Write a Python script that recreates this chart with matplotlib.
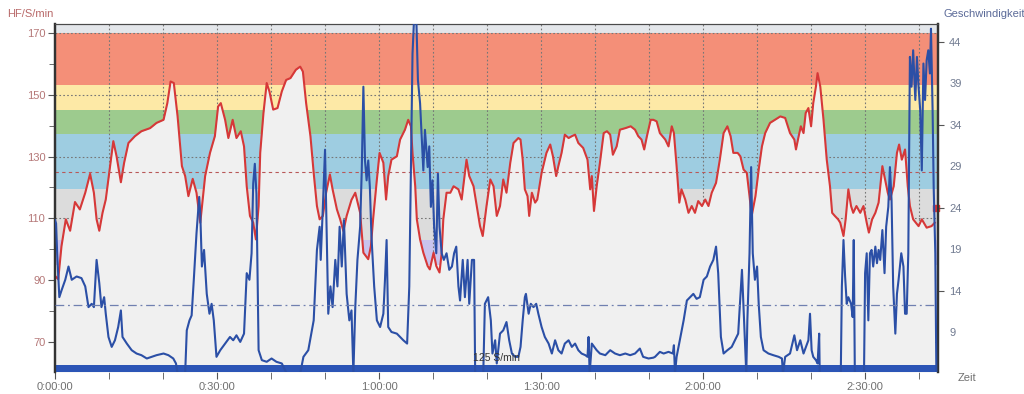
import matplotlib
matplotlib.use('Agg')
import matplotlib.pyplot as plt

# heart rate (min, S/min)
hr_t = [0, 0.6, 1.2, 2.0, 2.8, 3.7, 4.6, 5.6, 6.5, 7.2, 7.7, 8.2, 8.8, 9.4, 10.2, 10.8, 11.4, 12.2,
        12.8, 13.6, 14.8, 16.0, 17.6, 18.8, 20.1, 20.8, 21.4, 22.0, 22.7, 23.5, 24.1, 24.7, 25.5, 26.2,
        26.9, 27.8, 28.7, 29.6, 30.2, 30.7, 31.5, 32.1, 32.9, 33.6, 34.4, 35.0, 35.5, 36.1, 36.7, 37.2,
        37.7, 38.0, 38.6, 39.2, 39.7, 40.4, 41.2, 42.0, 42.8, 43.6, 44.6, 45.4, 45.9, 46.5, 47.3, 47.9,
        48.5, 49.0, 49.6, 50.2, 50.9, 51.4, 52.2, 52.8, 53.4, 54.0, 54.9, 55.6, 56.5, 57.1, 58.0, 58.5,
        58.9, 59.6, 60.1, 60.8, 61.3, 61.7, 62.3, 63.3, 63.9, 64.8, 65.4, 65.9, 66.2, 66.7, 67.0, 67.6,
        68.2, 69.0, 69.4, 70.1, 70.6, 71.2, 71.6, 71.9, 72.5, 73.2, 73.8, 74.7, 75.3, 76.2, 76.7, 77.5,
        78.1, 78.7, 79.2, 79.9, 80.6, 81.2, 81.8, 82.4, 83.0, 83.6, 84.3, 84.9, 85.8, 86.2, 86.6, 87.0,
        87.5, 87.8, 88.3, 88.9, 89.3, 90.1, 91.0, 91.7, 92.2, 92.8, 93.2, 93.8, 94.4, 95.1, 95.7, 96.3,
        96.9, 97.8, 98.6, 99.1, 99.4, 99.8, 100.3, 100.9, 101.6, 102.2, 102.8, 103.3, 104.0, 104.6,
        105.6, 106.6, 107.4, 108.0, 108.6, 109.1, 109.6, 110.3, 110.8, 111.4, 112.0, 113.0, 113.6,
        114.2, 114.6, 115.1, 115.6, 116.0, 116.7, 117.3, 117.9, 118.5, 119.1, 119.8, 120.4, 121.0,
        121.6, 122.4, 123.1, 123.8, 124.5, 125.1, 125.6, 126.4, 126.9, 127.5, 128.1, 128.6, 129.0,
        129.7, 130.3, 130.9, 131.5, 132.4, 133.3, 134.3, 135.2, 136.1, 136.9, 137.2, 137.7, 138.1,
        138.6, 139.0, 139.5, 140.0, 140.4, 140.9, 141.2, 141.7, 142.3, 142.9, 143.5, 143.9, 144.4,
        145.0, 145.4, 146.0, 146.4, 146.9, 147.4, 147.8, 148.4, 149.1, 149.7, 150.3, 150.7, 151.3,
        151.9, 152.5, 153.2, 153.7, 154.2, 154.6, 155.3, 155.9, 156.3, 156.8, 157.4, 157.9, 158.3,
        158.9, 159.9, 160.5, 161.4, 162.3, 162.9]
hr = [91.4, 90.3, 101, 109.7, 106, 115.3, 112.9, 118.3, 124.4, 118.3, 109.7, 106, 111.8, 116.1, 126.9,
      135, 130.1, 121.7, 128, 134.4, 136.6, 138.2, 139.2, 140.9, 141.9, 147.3, 154.3, 153.8, 143, 126.9,
      123.7, 117.2, 122.8, 118.3, 108.6, 123.7, 131.2, 136.6, 146.2, 147.3, 141.9, 136, 141.9, 136,
      138.2, 133.3, 120.4, 110.8, 108.6, 103.2, 114, 131.2, 144.1, 153.8, 151.1, 145.2, 145.7, 151.1,
      154.8, 155.4, 158.1, 159.1, 157.5, 147.3, 136.6, 124.7, 114, 109.7, 110.8, 118.3, 124.2, 119.4,
      112.9, 109.7, 105.9, 110.8, 116, 118.3, 111.8, 98.9, 96.8, 101.1, 109.7, 122.6, 131.2, 128,
      116.1, 123.7, 129, 130.1, 135.5, 138.7, 141.9, 139.8, 131.2, 120.4, 109.7, 103.2, 98.9, 94.6,
      93.5, 98.9, 94.6, 92.5, 98.9, 109.7, 118.3, 118.3, 120.4, 119.4, 116.1, 129, 123.7, 120.4, 114,
      107.5, 104.3, 114, 122.6, 120.4, 110.8, 114, 122.6, 118.3, 128, 134.4, 136, 135.5, 129, 119.4,
      117.2, 110.8, 118.3, 115.1, 116.1, 124.7, 131.2, 133.9, 130.1, 123.7, 126.9, 131.2, 137.1, 136,
      136.6, 137.1, 134.4, 132.8, 129, 119.4, 123.7, 112.4, 120.4, 128, 137.6, 138.2, 137.1, 130.6,
      133.3, 138.7, 139.2, 139.8, 138.7, 136.6, 135.5, 132.3, 136.6, 141.9, 141.9, 141.4, 137.6, 135.5,
      133.3, 139.8, 137.6, 126.9, 115.1, 119.4, 116.1, 111.8, 114, 111.8, 115.6, 114, 116.1, 114,
      118.3, 121.5, 129, 137.6, 139.8, 136.6, 131.2, 131.2, 130.1, 125.8, 124.7, 117.2, 110.8, 117.2,
      125.8, 133.3, 137.6, 140.9, 141.9, 143, 142.5, 137.6, 135.5, 132.3, 136.6, 139.8, 137.6, 144.1,
      145.7, 139.8, 147.3, 152.7, 157, 152.7, 141.9, 129, 120.4, 111.8, 110.8, 109.7, 108.6, 104.3,
      109.7, 119.4, 114, 111.8, 114, 111.8, 114, 108.6, 105.4, 109.7, 111.8, 115.1, 126.9, 122.6,
      118.3, 116.1, 120.4, 131.2, 133.9, 129, 132.3, 120.4, 114, 109.7, 107.5, 109.7, 107, 107.5, 108.6]

# speed (min, km/h)
spd_t = [0, 0.2, 0.4, 0.8, 1.2, 1.9, 2.5, 3.1, 4.0, 4.9, 5.6, 6.2, 6.8, 7.2, 7.7, 8.2, 8.6, 9.1, 9.4,
         9.9, 10.5, 11.1, 11.7, 12.2, 12.5, 13.3, 14.2, 15.1, 16.0, 17.0, 17.9, 18.8, 20.1, 21.0, 21.9,
         22.4, 22.7, 24.1, 24.4, 24.9, 25.3, 25.7, 26.2, 26.7, 26.9, 27.2, 27.6, 28.1, 28.6, 29.0, 29.4,
         29.9, 30.6, 31.5, 32.4, 33.0, 33.6, 34.3, 35.0, 35.5, 36.0, 36.4, 36.7, 37.0, 37.3, 37.7, 38.3,
         39.2, 40.1, 41.0, 42.0, 42.9, 45.4, 46.0, 46.9, 47.9, 48.5, 49.0, 49.2, 49.6, 50.0, 50.3, 50.6,
         51.0, 51.4, 51.9, 52.3, 52.7, 53.1, 53.5, 54.0, 54.5, 54.9, 55.25, 55.6, 56.0, 56.5, 56.8, 57.1,
         57.4, 57.7, 58.0, 58.3, 58.6, 59.1, 59.6, 60.2, 60.8, 61.1, 61.4, 61.7, 62.3, 63.3, 63.9, 64.5,
         65.2, 65.6, 65.9, 66.2, 66.5, 66.9, 67.2, 67.6, 67.9, 68.2, 68.5, 69.0, 69.3, 69.6, 69.9, 70.2,
         70.6, 70.9, 71.2, 71.6, 72.0, 72.5, 73.0, 73.5, 73.9, 74.3, 74.7, 75.0, 75.5, 75.9, 76.4, 76.7,
         77.2, 77.6, 77.8, 79.3, 79.6, 80.2, 80.7, 81.0, 81.5, 81.8, 82.4, 83.0, 83.6, 84.1, 84.6, 85.2,
         85.8, 86.2, 86.6, 87.0, 87.2, 87.7, 88.1, 88.6, 89.1, 89.5, 90.1, 90.7, 91.4, 92.0, 92.6, 93.2,
         93.8, 94.4, 95.1, 95.7, 96.3, 96.9, 97.5, 98.2, 98.6, 98.8, 99.0, 99.4, 100.3, 100.9, 101.9,
         102.8, 103.7, 104.6, 105.6, 106.5, 107.4, 108.3, 108.9, 109.9, 110.8, 111.1, 112.0, 112.7,
         113.6, 114.4, 114.6, 114.8, 115.1, 115.7, 116.4, 117.0, 117.6, 118.2, 118.8, 119.4, 120.1,
         120.7, 121.3, 121.9, 122.4, 122.8, 123.3, 123.8, 124.5, 125.3, 125.9, 126.5, 127.2, 127.6,
         128.0, 128.2, 128.6, 128.9, 129.2, 129.6, 130.0, 130.3, 130.7, 131.2, 132.1, 133.0, 134.0,
         134.6, 134.8, 135.2, 136.1, 136.9, 137.4, 138.0, 138.6, 139.5, 139.8, 140.1, 140.4, 140.9,
         141.2, 141.5, 141.6, 145.5, 145.7, 146.0, 146.3, 146.6, 146.9, 147.4, 147.7, 147.9, 148.1,
         149.8, 150.0, 150.3, 150.6, 150.9, 151.2, 151.5, 151.9, 152.2, 152.5, 152.8, 153.2, 153.6,
         153.9, 154.3, 154.6, 154.9, 155.2, 155.6, 155.9, 156.2, 156.7, 157.1, 157.4, 157.7, 158.0,
         158.3, 158.6, 158.9, 159.3, 159.6, 159.9, 160.2, 160.5, 160.8, 161.1, 161.4, 161.7, 162.0,
         162.2, 162.5, 162.7, 163.0, 163.2]
spd = [22.5, 22.1, 18.5, 13.2, 14, 15.3, 16.9, 15.3, 15.7, 15.5, 14.5, 12, 12.4, 12, 17.7, 14.9, 12,
       13.2, 11.2, 8.4, 7.2, 8, 9.6, 11.6, 8.4, 7.6, 6.8, 6.4, 6.2, 5.8, 6, 6.2, 6.4, 6.2, 5.8, 5.2, 4.0,
       4.0, 9.2, 10.4, 11, 15.3, 20.9, 25.3, 23.3, 16.9, 18.9, 13.6, 11.2, 12.4, 10.4, 6, 6.8, 7.6, 8.4,
       8, 8.6, 7.8, 8.8, 16.1, 15.3, 18.5, 26.9, 29.3, 25.7, 6.8, 5.6, 5.4, 5.8, 5.4, 5.2, 4.0, 4.0, 6,
       6.8, 10.4, 18.9, 21.7, 17.7, 24.1, 31, 20.9, 11.2, 14.5, 12, 17.7, 14.5, 21.7, 16.9, 22.5, 13.6,
       10.4, 11.6, 4.0, 12, 17.7, 21.7, 28.5, 38.6, 29.7, 27.3, 29.7, 26.5, 20.5, 14.5, 10.4, 9.6, 11.2,
       15.3, 20.1, 9.6, 9, 8.8, 8.4, 8, 7.6, 14.5, 28.5, 42.6, 47, 47, 39.4, 36.6, 32.6, 28.5, 33.4,
       28.9, 31.4, 24.1, 27.3, 21.7, 18.5, 28.1, 21.7, 18.5, 17.7, 18.5, 16.5, 16.9, 18.5, 19.3, 14.5,
       12.8, 17.7, 13.2, 17.7, 12.4, 17.7, 17.7, 4.0, 4.0, 12.4, 13.2, 10.4, 6.4, 8, 5.2, 8.8, 9.2,
       10.2, 8, 6.4, 6, 6, 7.2, 10.4, 13.2, 13.6, 11.2, 12.4, 12, 12.4, 11.2, 9.6, 8.4, 7.6, 6.4, 8,
       6.8, 6.4, 7.6, 8, 7.2, 7.6, 6.8, 6.4, 6.2, 6, 8.4, 4.0, 7.6, 6.8, 6.4, 6.2, 6.8, 6.4, 6.2, 6.4,
       6.2, 6.4, 7, 6, 5.8, 5.9, 6, 6.6, 6.4, 6.6, 6.4, 7.4, 4.0, 6, 8, 10.4, 12.8, 13.2, 13.6, 13,
       13.2, 15.3, 15.7, 16.9, 17.7, 19.3, 16.1, 8.4, 6.4, 6.8, 7.2, 8, 8.8, 16.5, 10.4, 4.0, 10.4,
       18.5, 28.9, 18.5, 15.3, 16.9, 12.4, 8.4, 6.8, 6.4, 6.2, 6, 5.8, 4.0, 6, 6.4, 8.6, 6.8, 8, 6.4,
       8, 11.2, 6.8, 6, 5.6, 5.2, 8.8, 4.0, 4.0, 14.5, 20.1, 15.7, 12.4, 13.2, 12.4, 10.8, 20.1, 4.0,
       4.0, 16.1, 18.5, 10.4, 18.5, 18.9, 16.9, 19.3, 17.3, 18.9, 17.7, 21.3, 16.1, 21.7, 24.1, 28.9,
       24.9, 14.5, 8.8, 13.6, 15.3, 18.5, 16.9, 11.2, 11.2, 18.5, 42.2, 38.6, 43, 37, 42.2, 38.6,
       35.8, 28.5, 41.4, 37, 41.8, 43, 40.2, 45.6, 35.8, 26.5, 18.5, 4.0]

hr_avg = 125
spd_avg = 12.3

# hr zones (lower, upper, colour)
zones = [(95, 103, '#c9c3ee'), (103, 119.4, '#dcdcdc'), (119.4, 137.4, '#9ecde1'),
         (137.4, 145.2, '#9dcb8e'), (145.2, 153.2, '#fde9a6'), (153.2, 170, '#f48f78'),
         (170, 173, '#e3e6ea')]

x_ticks = [0, 30, 60, 90, 120, 150]
x_labels = ['0:00:00', '0:30:00', '1:00:00', '1:30:00', '2:00:00', '2:30:00']

plt.rcParams['font.family'] = ['Liberation Sans', 'DejaVu Sans']

fig = plt.figure(figsize=(10.24, 3.94), dpi=100)
ax = fig.add_axes([55 / 1024, 1 - 372 / 394, 883 / 1024, 348 / 394])
ax.set_facecolor('#f0f0f0')
ax.set_xlim(0, 163.5)
ax.set_ylim(60.3, 172.9)

for lo, hi, c in zones:
    ax.axhspan(lo, hi, color=c, lw=0, zorder=0)

# grid sits under the hr fill
for v in range(10, 170, 10):
    ax.axvline(v, color='#777777', lw=0.8, ls=(0, (1.5, 2)), zorder=1)
for h in range(70, 171, 20):
    ax.axhline(h, color='#777777', lw=0.8, ls=(0, (1.5, 2)), zorder=1)

ax.fill_between(hr_t, 60.3, hr, color='#f0f0f0', lw=0, zorder=2)
ax.plot(hr_t, hr, color='#d63838', lw=1.5, zorder=3)
ax.axhline(hr_avg, color='#b85858', lw=0.8, ls=(0, (3, 3)), zorder=4)
ax.plot([163.2], [113.5], marker='s', ms=4, color='#e03030', zorder=5, clip_on=False)

ax2 = ax.twinx()
ax2.set_ylim(4.17, 46.17)
ax2.axhspan(4.17, 5.0, color='#2c55b6', lw=0, zorder=2)
ax2.plot(spd_t, spd, color='#2b4fa6', lw=1.5, zorder=3)
ax2.axhline(spd_avg, color='#7080b0', lw=0.9, ls=(0, (7, 3, 1.5, 3)), zorder=4)

# left axis
ax.set_yticks(range(70, 171, 20))
ax.set_yticks(range(80, 170, 20), minor=True)
ax.tick_params(axis='y', which='both', colors='#555555', labelcolor='#b57878',
               labelsize=8, length=5, pad=2)
ax.tick_params(axis='y', which='minor', length=4)

# time axis
ax.set_xticks(x_ticks)
ax.set_xticklabels(x_labels)
ax.set_xticks(range(10, 164, 10), minor=True)
ax.tick_params(axis='x', which='both', colors='#555555', labelcolor='#707070',
               labelsize=8, length=5, pad=2)

# right axis: ticks every 10, labels every 5
ax2.set_yticks([14, 24, 34, 44])
ax2.set_yticks([9, 19, 29, 39], minor=True)
ax2.set_yticklabels(['9', '19', '29', '39'], minor=True)
ax2.tick_params(axis='y', which='both', colors='#555555', labelcolor='#707a90',
                labelsize=8, length=4, pad=4)
ax2.tick_params(axis='y', which='minor', length=0, pad=8)

for a in (ax, ax2):
    a.spines['bottom'].set_visible(False)
    a.spines['top'].set_color('#4a4a4a')
    a.spines['left'].set_color('#333333')
    a.spines['right'].set_color('#333333')
    a.spines['left'].set_linewidth(1.6)
    a.spines['right'].set_linewidth(1.6)

fig.text(7 / 1024, 1 - 14 / 394, 'HF/S/min', color='#b86868', fontsize=8, va='center', ha='left')
fig.text(943 / 1024, 1 - 14 / 394, 'Geschwindigkeit', color='#5b6a98', fontsize=8,
         va='center', ha='left')
fig.text(958 / 1024, 1 - 378 / 394, 'Zeit', color='#707070', fontsize=8, va='center', ha='left')
fig.text(496 / 1024, 1 - 358 / 394, '125 S/min', color='#333333', fontsize=7.5,
         va='center', ha='center')

plt.savefig('out.png', dpi=100)
